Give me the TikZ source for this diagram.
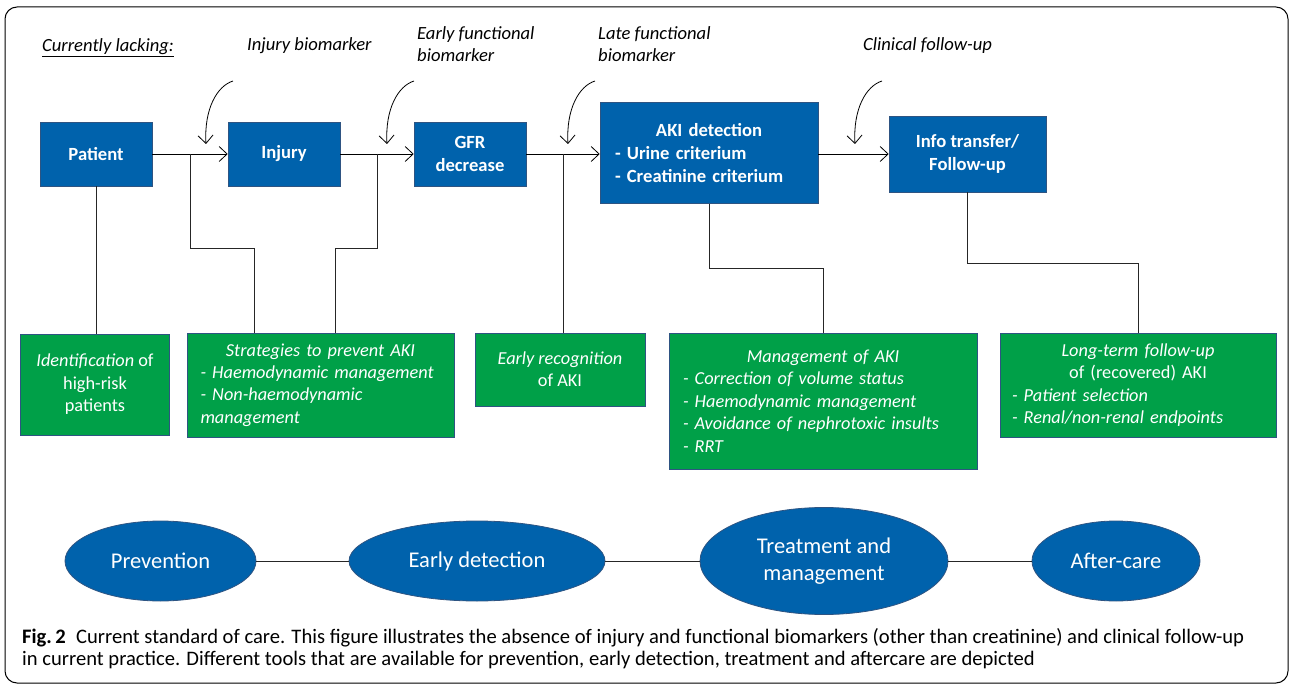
\documentclass[tikz,border=0pt]{standalone}
\usepackage{fontspec}
\setmainfont{Carlito}
\usetikzlibrary{arrows.meta,shapes.geometric,calc}
\definecolor{boxblue}{RGB}{0,98,172}
\definecolor{boxgreen}{RGB}{0,160,72}
\definecolor{edgeblue}{RGB}{46,84,130}

\begin{document}
\begin{tikzpicture}[x=1pt,y=-1pt,
  stage/.style={rectangle, fill=boxblue, draw=edgeblue, line width=0.6pt, text=white, font=\fontsize{18.6}{22.8}\selectfont\bfseries, align=center, inner sep=0pt},
  tool/.style={rectangle, fill=boxgreen, draw=edgeblue, line width=0.8pt, text=white, font=\fontsize{18.3}{22.4}\selectfont, inner sep=0pt},
  phase/.style={ellipse, fill=boxblue, draw=edgeblue, line width=0.8pt, text=white, font=\fontsize{22.5}{27}\selectfont, align=center, inner sep=0pt},
  lack/.style={font=\fontsize{18.6}{22}\selectfont\itshape, align=left, inner sep=0pt},
  flow/.style={-{Straight Barb[length=8pt,width=15pt]}, line width=0.8pt},
  link/.style={line width=0.8pt, black!85}
]
\useasboundingbox (0,0) rectangle (1290,684);

% Frame
\draw[line width=1pt, rounded corners=12pt] (5,7) rectangle (1288,683);

% Currently lacking
\node[lack, anchor=base west] (lacking) at (42,52) {\underline{Currently lacking:}};
\node[lack, anchor=base west] (injbm) at (247,51) {Injury biomarker};
\node[lack, anchor=north west] (earlybm) at (417,26) {Early functional\\biomarker};
\node[lack, anchor=north west] (latebm) at (598,26) {Late functional\\biomarker};
\node[lack, anchor=base west] (clinfu) at (863,51) {Clinical follow-up};

% Stages
\node[stage, minimum width=112, minimum height=64] (pat) at (96,154) {Patient};
\node[stage, minimum width=112, minimum height=64] (inj) at (284,154) {Injury};
\node[stage, minimum width=112, minimum height=64] (gfr) at (470,154) {GFR\\decrease};
\node[stage, minimum width=218, minimum height=101, align=left, text width=188] (aki) at (709,153)
  {\makebox[188pt]{AKI detection}\\- Urine criterium\\- Creatinine criterium};
\node[stage, minimum width=157, minimum height=76] (info) at (967.5,154) {Info transfer/\\Follow-up};

% Tools
\node[tool, minimum width=149, minimum height=101, align=center] (risk) at (95,384.5)
  {\textit{Identification} of\\high-risk\\patients};
\node[tool, minimum width=267, minimum height=104, align=left, text width=240] (prev) at (320.5,385)
  {\itshape\makebox[240pt]{Strategies to prevent AKI}\\- Haemodynamic management\\- Non-haemodynamic\\management};
\node[tool, minimum width=170, minimum height=73, align=center] (early) at (560,369.5)
  {\textit{Early recognition}\\of AKI};
\node[tool, minimum width=308, minimum height=136, align=left, text width=280] (mgmt) at (823,401)
  {\itshape\makebox[280pt]{Management of AKI}\\- Correction of volume status\\- Haemodynamic management\\- Avoidance of nephrotoxic insults\\- RRT};
\node[tool, minimum width=276, minimum height=104, align=left, text width=252] (care) at (1138,385)
  {\makebox[252pt]{\textit{Long-term follow-up}}\\\makebox[252pt]{of (recovered) AKI}\\\itshape - Patient selection\\- Renal/non-renal endpoints};

% Phases
\node[phase, minimum width=191, minimum height=80] (pre) at (160.5,561) {Prevention};
\node[phase, minimum width=256, minimum height=80] (edt) at (477,561) {Early detection};
\node[phase, minimum width=248, minimum height=107] (trm) at (824,561) {Treatment and\\management};
\node[phase, minimum width=168, minimum height=80] (aft) at (1116,561) {After-care};

% Caption
\node[anchor=north west, align=left, inner sep=0pt, font=\fontsize{20.6}{22.5}\selectfont] (cap) at (22,628)
  {\textbf{Fig.\,2}\enspace Current standard of care. This figure illustrates the absence of injury and functional biomarkers (other than creatinine) and clinical follow-up\\in current practice. Different tools that are available for prevention, early detection, treatment and aftercare are depicted};

% Flow arrows
\draw[flow] (pat.east) -- (inj.west);
\draw[flow] (inj.east) -- (gfr.west);
\draw[flow] (gfr.east) -- (gfr.east -| aki.west);
\draw[flow] (info.west -| aki.east) -- (info.west);

% Missing markers
\coordinate (h1) at (233,81);
\coordinate (h2) at (414,81);
\coordinate (h3) at (595,81);
\coordinate (h4) at (882,81);
\foreach \h in {h1,h2,h3,h4}
  \draw[flow] (\h) .. controls ($(\h)+(-16,5)$) and ($(\h)+(-29,28)$) .. ($(\h)+(-27,63)$);

% Branches down to the tools
\coordinate (j1) at ($(pat.east)!0.5!(inj.west)$);
\coordinate (j2) at ($(inj.east)!0.5!(gfr.west)$);
\coordinate (j3) at ($(gfr.east)!0.5!(gfr.east -| aki.west)$);
\coordinate (k1) at (254,248);
\coordinate (k2) at (335,248);
\draw[link] (pat.south) -- (pat.south |- risk.north);
\draw[link] (j1) |- (k1) -- (k1 |- prev.north);
\draw[link] (j2) |- (k2) -- (k2 |- prev.north);
\draw[link] (j3) -- (j3 |- early.north);
\draw[link] (aki.south) -- ++(0,65) -| (mgmt.north);
\draw[link] (info.south) -- ++(0,71) -| (care.north);

% Phase links
\draw[link] (pre) -- (edt);
\draw[link] (edt) -- (trm);
\draw[link] (trm) -- (aft);
\end{tikzpicture}
\end{document}
